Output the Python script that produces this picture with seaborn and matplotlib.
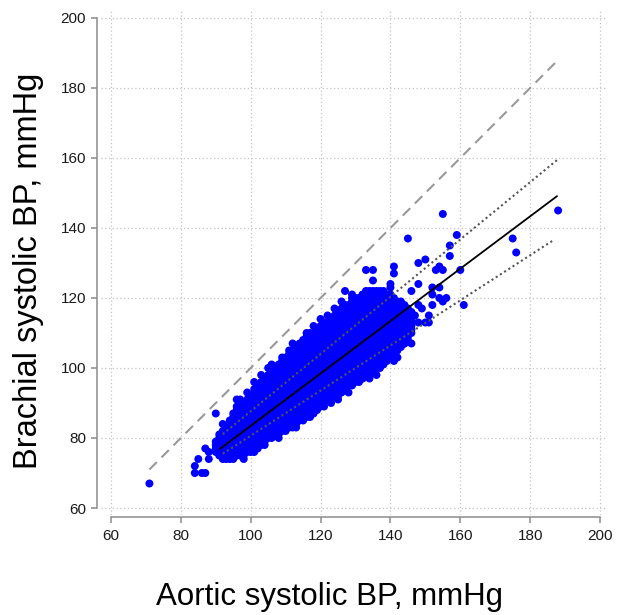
import numpy as np
import pandas as pd
import matplotlib
matplotlib.use("Agg")
import matplotlib.pyplot as plt
import seaborn as sns

# ---- data ----
# dense cloud: for each aortic value (integer mmHg), lowest and highest brachial value
cloud_x = [90, 91, 92, 93, 94, 95, 96, 97, 98, 99, 100, 101, 102, 103, 104, 105, 106, 107,
           108, 109, 110, 111, 112, 113, 114, 115, 116, 117, 118, 119, 120, 121, 122, 123,
           124, 125, 126, 127, 128, 129, 130, 131, 132, 133, 134, 135, 136, 137, 138, 139,
           140, 141, 142, 143, 144, 145, 146]
cloud_lo = [76, 75, 74, 74, 74, 74, 75, 75, 75, 76, 76, 77, 77, 78, 79, 80, 80, 81,
            81, 82, 82, 83, 83, 84, 85, 85, 86, 87, 87, 88, 89, 90, 91, 91,
            92, 92, 93, 94, 95, 95, 96, 96, 97, 98, 98, 99, 100, 100, 101, 102,
            103, 104, 105, 106, 107, 108, 110]
cloud_hi = [79, 81, 82, 83, 85, 87, 89, 89, 90, 91, 92, 94, 95, 96, 97, 98, 99, 100,
            101, 102, 103, 104, 105, 106, 107, 108, 109, 110, 110, 111, 112, 113, 113, 114,
            115, 116, 117, 118, 118, 119, 120, 120, 121, 122, 122, 122, 122, 122, 122, 121,
            121, 120, 119, 119, 118, 117, 116]

# isolated points outside the dense cloud
extra_x = [71, 84, 86, 87, 84, 85, 87, 88, 88, 90, 92, 96, 101,
           127, 129, 129, 133, 135, 135, 141, 141, 140, 140, 146, 148, 148, 150, 153, 154,
           155, 152, 154, 152, 154, 156, 155, 152, 148, 149, 161, 160, 155, 145, 159, 157,
           157, 175, 176, 188, 151, 147, 146, 148, 150,
           132, 138, 141, 144, 151,
           97, 99, 103, 105, 106, 109, 111, 112, 116, 118, 120, 122, 124, 126,
           98, 101, 104, 108, 113, 117, 121, 123, 125, 128, 134, 136, 142, 146]
extra_y = [67, 70, 70, 70, 72, 74, 77, 76, 74, 87, 84, 91, 96,
           122, 121, 120, 128, 128, 125, 129, 127, 124, 123, 122, 124, 130, 131, 128, 129,
           128, 123, 123, 121, 120, 120, 119, 118, 118, 117, 118, 128, 144, 137, 138, 135,
           132, 137, 133, 145, 115, 115, 113, 113, 113,
           97, 102, 102, 107, 113,
           91, 93, 98, 100, 101, 103, 105, 107, 110, 112, 114, 115, 117, 119,
           74, 76, 78, 80, 83, 86, 89, 90, 91, 93, 97, 98, 103, 107]

# reference and fitted lines (end points)
identity_x = [71, 188]
identity_y = [71, 188]
fit_x = [91.2, 187.7]
fit_y = [76.9, 149.1]
upper_x = [92.0, 187.7]
upper_y = [81.1, 159.4]
lower_x = [92.0, 186.8]
lower_y = [75.5, 136.6]

ticks = [60, 80, 100, 120, 140, 160, 180, 200]
xlabel = "Aortic systolic BP, mmHg"
ylabel = "Brachial systolic BP, mmHg"

# ---- build the point table ----
pts_x, pts_y = [], []
for cx, lo, hi in zip(cloud_x, cloud_lo, cloud_hi):
    for cy in range(lo, hi + 1):
        pts_x.append(cx)
        pts_y.append(cy)
pts_x += extra_x
pts_y += extra_y
df = pd.DataFrame({"aortic": pts_x, "brachial": pts_y})

# ---- plot ----
sns.set_theme(style="white")
plt.rcParams["font.family"] = ["Liberation Sans", "DejaVu Sans"]

fig = plt.figure(figsize=(6.17, 6.15), dpi=100)
ax = fig.add_axes([0.1629, 0.1626, 0.8209, 0.8224])

for t in ticks:
    ax.axvline(t, color="#c4c4c4", lw=0.9, linestyle=(0, (1, 2)), zorder=0)
    ax.axhline(t, color="#c4c4c4", lw=0.9, linestyle=(0, (1, 2)), zorder=0)

sns.scatterplot(data=df, x="aortic", y="brachial", color="#0000ff", s=33,
                edgecolor="none", linewidth=0, ax=ax, zorder=2, legend=False)

ax.plot(identity_x, identity_y, color="#999999", lw=1.5, linestyle=(0, (5, 3.2)), zorder=3)
ax.plot(upper_x, upper_y, color="#555555", lw=1.5, linestyle=(0, (1, 1.4)), zorder=3)
ax.plot(lower_x, lower_y, color="#555555", lw=1.5, linestyle=(0, (1, 1.4)), zorder=3)
ax.plot(fit_x, fit_y, color="black", lw=1.3, zorder=4)

ax.set_xlim(57, 202)
ax.set_ylim(58, 202.5)
ax.set_xticks(ticks)
ax.set_yticks(ticks)
ax.set_xticklabels([str(t) for t in ticks])
ax.set_yticklabels([str(t) for t in ticks])

for side in ["top", "right"]:
    ax.spines[side].set_visible(False)
ax.spines["left"].set_position(("outward", 2.2))
ax.spines["bottom"].set_position(("outward", 1.5))
ax.spines["left"].set_bounds(60, 200)
ax.spines["bottom"].set_bounds(60, 200)
for side in ["left", "bottom"]:
    ax.spines[side].set_color("#8c8c8c")
    ax.spines[side].set_linewidth(1.1)

ax.tick_params(axis="both", which="major", direction="out", length=4.3, width=1.1,
               color="#8c8c8c", labelsize=11, labelcolor="#1a1a1a", pad=4,
               bottom=True, left=True)
ax.set_xlabel("")
ax.set_ylabel("")
ax.grid(False)

fig.text(330 / 617, 1 - 597 / 615, xlabel, ha="center", va="center", fontsize=22.5,
         color="black")
fig.text(29 / 617, 1 - 271 / 615, ylabel, ha="center", va="center", rotation=90,
         fontsize=23.5, color="black")

fig.savefig("out.png", dpi=100)
